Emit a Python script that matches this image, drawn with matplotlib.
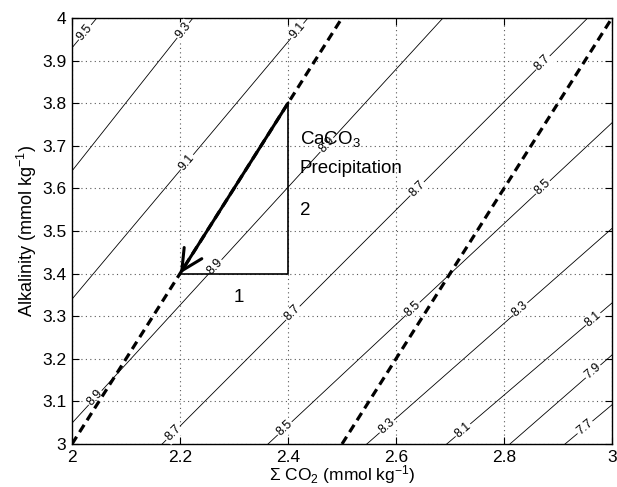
import numpy as np
import matplotlib
matplotlib.use("Agg")
import matplotlib.pyplot as plt

plt.rcParams['font.family'] = ['Liberation Sans', 'DejaVu Sans']
plt.rcParams['mathtext.fontset'] = 'custom'
plt.rcParams['mathtext.rm'] = 'Liberation Sans'
plt.rcParams['mathtext.it'] = 'Liberation Sans:italic'

# ---- data ----
levels = [9.5, 9.3, 9.1, 8.9, 8.7, 8.5, 8.3, 8.1, 7.9, 7.7]
# contour line end points (DIC, Alk)
line_start = [(2.0, 3.93), (2.0, 3.641), (2.0, 3.34), (2.0, 3.049), (2.167, 3.0),
              (2.363, 3.0), (2.546, 3.0), (2.694, 3.0), (2.811, 3.0), (2.913, 3.0)]
line_end = [(2.046, 4.0), (2.224, 4.0), (2.437, 4.0), (2.687, 4.0), (2.955, 4.0),
            (3.0, 3.754), (3.0, 3.506), (3.0, 3.331), (3.0, 3.209), (3.0, 3.092)]
# DIC positions of contour labels on each line
label_dic = [[2.024], [2.206], [2.417, 2.213], [2.043, 2.265, 2.472],
             [2.187, 2.409, 2.639, 2.872], [2.394, 2.631, 2.872],
             [2.583, 2.830], [2.724, 2.965], [2.965], [2.950]]

# dashed CaCO3 precipitation lines (slope 2)
dash_lines = [((2.0, 3.0), (2.5, 4.0)), ((2.5, 3.0), (3.0, 4.0))]
arrow_from = (2.4, 3.8)
arrow_to = (2.2, 3.4)
corner = (2.4, 3.4)

xticks = [2, 2.2, 2.4, 2.6, 2.8, 3]
xticklabels = ['2', '2.2', '2.4', '2.6', '2.8', '3']
yticks = [3, 3.1, 3.2, 3.3, 3.4, 3.5, 3.6, 3.7, 3.8, 3.9, 4]
yticklabels = ['3', '3.1', '3.2', '3.3', '3.4', '3.5', '3.6', '3.7', '3.8', '3.9', '4']

fig = plt.figure(figsize=(6.17, 4.87), dpi=100)
ax = fig.add_axes([72/617, 1-444/487, 540/617, 426/487])
ax.set_xlim(2, 3)
ax.set_ylim(3, 4)

ax.set_xticks(xticks)
ax.set_xticklabels(xticklabels)
ax.set_yticks(yticks)
ax.set_yticklabels(yticklabels)
ax.tick_params(direction='in', length=5, width=0.8, top=True, right=True,
               labelsize=12.5)
ax.tick_params(axis='x', pad=4)
ax.tick_params(axis='y', pad=4)
ax.grid(True, color='0.35', linestyle=(0, (1, 3)), linewidth=0.8)
for sp in ax.spines.values():
    sp.set_linewidth(1.0)

# contour lines
for lev, s, e, ldics in zip(levels, line_start, line_end, label_dic):
    ax.plot([s[0], e[0]], [s[1], e[1]], color='black', lw=0.6, zorder=2)
    p0 = ax.transData.transform(s)
    p1 = ax.transData.transform(e)
    ang = np.degrees(np.arctan2(p1[1]-p0[1], p1[0]-p0[0]))
    slope = (e[1]-s[1])/(e[0]-s[0])
    for d in ldics:
        a = s[1] + slope*(d - s[0])
        ax.text(d, a, f'{lev:.1f}', rotation=ang, rotation_mode='anchor',
                ha='center', va='center', fontsize=9, zorder=3,
                bbox=dict(boxstyle='square,pad=0.08', fc='white', ec='none'))

# dashed lines
for (s, e) in dash_lines:
    ax.plot([s[0], e[0]], [s[1], e[1]], color='black', lw=2.3,
            linestyle=(0, (2.7, 1.7)), zorder=4)

# triangle
ax.plot([arrow_from[0], corner[0], arrow_to[0]], [arrow_from[1], corner[1], arrow_to[1]],
        color='black', lw=1.2, zorder=4)
ax.annotate('', xy=arrow_to, xytext=arrow_from,
            arrowprops=dict(arrowstyle='->,head_length=0.5,head_width=0.25', lw=2.2,
                            color='black', mutation_scale=30, shrinkA=0, shrinkB=0),
            zorder=5)

ax.text(2.309, 3.345, '1', fontsize=13.5, ha='center', va='center', zorder=6)
ax.text(2.422, 3.549, '2', fontsize=13.5, ha='left', va='center', zorder=6)
ax.text(2.422, 3.704, 'CaCO$_3$', fontsize=13.5, ha='left', va='baseline', zorder=6)
ax.text(2.422, 3.636, 'Precipitation', fontsize=13.5, ha='left', va='baseline', zorder=6)

ax.set_ylabel('Alkalinity (mmol kg$^{-1}$)', fontsize=13, labelpad=2)
ax.set_xlabel('$\\Sigma$ CO$_2$ (mmol kg$^{-1}$)', fontsize=12.5, labelpad=-1.0)

fig.savefig('out.png', dpi=100)
